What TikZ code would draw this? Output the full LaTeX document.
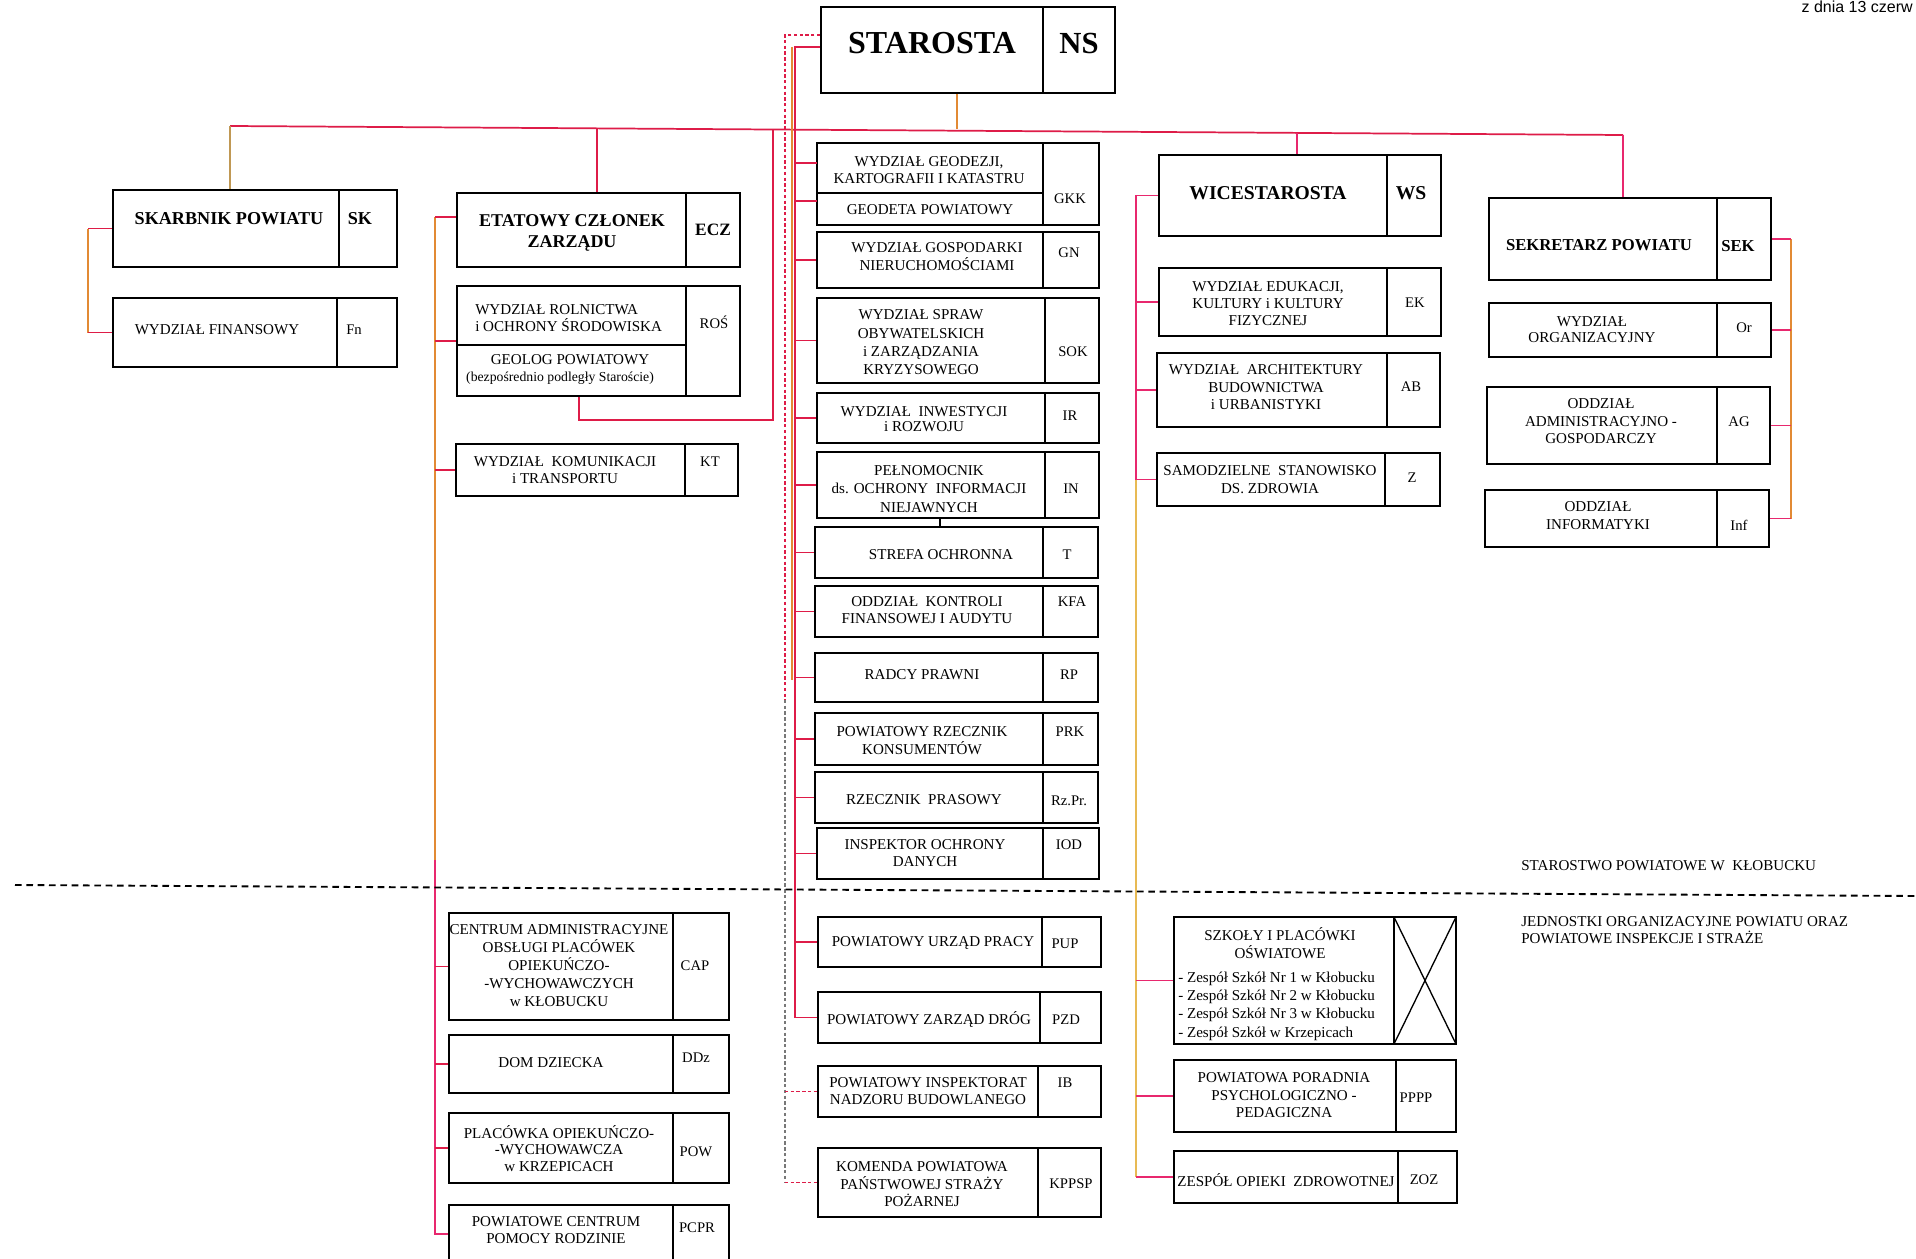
\documentclass[tikz,border=0pt]{standalone}
\usepackage{fontspec}
\setmainfont{Liberation Serif}
\newfontfamily\datefont{Liberation Sans}
\usetikzlibrary{fit,calc}
\definecolor{cred}{RGB}{222,28,72}
\definecolor{cpink}{RGB}{232,40,110}
\definecolor{corange}{RGB}{226,138,52}
\definecolor{ctan}{RGB}{192,152,84}
\definecolor{cyel}{RGB}{232,186,84}
\definecolor{cgrey}{RGB}{120,120,120}
\newcommand{\orgbox}[6]{%
  \node[obox, fit={(#2,#3)(#4,#5)}] (#1) {};
  \draw[boxline] (#6,#3) -- (#6,#5);}
\begin{document}
\begin{tikzpicture}[x=0.75pt,y=-0.75pt]
\tikzset{
  obox/.style={draw=black, line width=1.3pt, inner sep=0pt},
  helper/.style={inner sep=0pt},
  boxline/.style={draw=black, line width=1.3pt},
  lbl/.style={inner sep=0pt, align=center, font=\fontsize{11.3}{13.2}\selectfont},
  code/.style={inner sep=0pt, font=\fontsize{11}{13}\selectfont},
  hd/.style={inner sep=0pt, align=center, font=\bfseries\fontsize{13.6}{16}\selectfont},
  conn/.style={draw=cred, line width=1.3pt},
  dconn/.style={draw=cred, line width=1.2pt, dash pattern=on 2.5pt off 1.8pt},
  divl/.style={draw=black, line width=1.4pt, dash pattern=on 5pt off 3.5pt}
}
\useasboundingbox (0,0) rectangle (1916,1259);
\fill[white] (0,0) rectangle (1916,1259);

% ---------- boxes ----------
\orgbox{st}{821}{7}{1115}{93}{1043}
\orgbox{sk}{113}{190}{397}{267}{339}
\orgbox{fn}{113}{298}{397}{367}{337}
\orgbox{ecz}{457}{193}{740}{267}{686}
\orgbox{ros}{457}{286}{740}{396}{686}
\draw[boxline] (457,345) -- (686,345);
\orgbox{kt}{456}{444}{738}{496}{685}
\orgbox{gkk}{817}{143}{1099}{225}{1043}
\draw[boxline] (817,193) -- (1043,193);
\orgbox{gn}{817}{232}{1099}{288}{1043}
\orgbox{sok}{817}{298}{1099}{383}{1045}
\orgbox{ir}{817}{393}{1099}{443}{1045}
\orgbox{inj}{817}{452}{1099}{518}{1045}
\orgbox{tso}{815}{527}{1098}{578}{1043}
\orgbox{kfa}{815}{586}{1098}{637}{1043}
\orgbox{rp}{815}{653}{1098}{702}{1043}
\orgbox{prk}{815}{713}{1098}{765}{1043}
\orgbox{rzpr}{815}{772}{1098}{823}{1043}
\orgbox{iod}{817}{828}{1099}{879}{1043}
\orgbox{pup}{818}{917}{1101}{967}{1042}
\orgbox{pzd}{818}{992}{1101}{1043}{1040}
\orgbox{ib}{818}{1066}{1101}{1117}{1038}
\orgbox{kppsp}{818}{1148}{1101}{1217}{1038}
\orgbox{cap}{449}{913}{729}{1020}{673}
\orgbox{ddz}{449}{1035}{729}{1093}{673}
\orgbox{pow}{449}{1113}{729}{1183}{673}
\orgbox{pcpr}{449}{1205}{729}{1263}{673}
\orgbox{ws}{1159}{155}{1441}{236}{1387}
\orgbox{ek}{1159}{268}{1441}{336}{1387}
\orgbox{ab}{1157}{353}{1440}{427}{1387}
\orgbox{zdr}{1157}{453}{1440}{506}{1385}
\orgbox{szk}{1174}{917}{1456}{1044}{1394}
\draw[boxline, line width=1pt] (1394,917) -- (1456,1044) (1456,917) -- (1394,1044);
\orgbox{pppp}{1174}{1060}{1456}{1132}{1396}
\orgbox{zoz}{1174}{1151}{1457}{1203}{1398}
\orgbox{sek}{1489}{198}{1771}{280}{1717}
\orgbox{orgw}{1489}{303}{1771}{357}{1717}
\orgbox{ag}{1487}{387}{1770}{464}{1717}
\orgbox{inf}{1485}{490}{1769}{547}{1717}
\node[helper, fit={(817,143)(1043,183)}] (gkkA) {};
\node[helper, fit={(817,193)(1043,209)}] (gkkB) {};

% ---------- texts ----------
\node[hd, font=\bfseries\fontsize{24}{28}\selectfont] (stT) at (932,43) {STAROSTA};
\node[hd, font=\bfseries\fontsize{23}{28}\selectfont] (stC) at (1079,43) {NS};
\node[hd] (skT) at (229,219) {SKARBNIK POWIATU};
\node[hd] (skC) at (360,219) {SK};
\node[lbl] (fnT) at (217,330) {WYDZIAŁ FINANSOWY};
\node[code] (fnC) at (354,330) {Fn};
\node[hd, font=\bfseries\fontsize{13.5}{15.75}\selectfont] (eczT) at (572,232.5) {ETATOWY CZŁONEK\\ZARZĄDU};
\node[hd, font=\bfseries\fontsize{13}{15}\selectfont] (eczC) at (713,230) {ECZ};
\node[lbl, align=left, anchor=west, font=\fontsize{11.3}{12.75}\selectfont] (rosT) at (475,318.5) {WYDZIAŁ ROLNICTWA\\i OCHRONY ŚRODOWISKA};
\node[lbl] (rosG) at (570,360) {GEOLOG POWIATOWY};
\node[lbl, font=\fontsize{10.3}{12}\selectfont] (rosP) at (560,378) {(bezpośrednio podległy Staroście)};
\node[code] (rosC) at (714,322) {ROŚ};
\node[lbl, font=\fontsize{11.3}{12.75}\selectfont] (ktT) at (565,470.5) {WYDZIAŁ~ KOMUNIKACJI\\i TRANSPORTU};
\node[code] (ktC) at (710,462) {KT};

\node[lbl, font=\fontsize{11.3}{12.75}\selectfont] (gkkT) at (929,170.5) {WYDZIAŁ GEODEZJI,\\KARTOGRAFII I KATASTRU};
\node[lbl] (gkkG) at (930,210) {GEODETA POWIATOWY};
\node[code] (gkkC) at (1070,199) {GKK};
\node[lbl, font=\fontsize{11.3}{13.5}\selectfont] (gnT) at (937,257) {WYDZIAŁ GOSPODARKI\\NIERUCHOMOŚCIAMI};
\node[code] (gnC) at (1069,253) {GN};
\node[lbl, font=\fontsize{11.3}{13.7}\selectfont] (sokT) at (921,342.5) {WYDZIAŁ SPRAW\\OBYWATELSKICH\\i ZARZĄDZANIA\\KRYZYSOWEGO};
\node[code] (sokC) at (1073,352) {SOK};
\node[lbl, font=\fontsize{11.3}{11.3}\selectfont] (irT) at (924,419.5) {WYDZIAŁ~ INWESTYCJI\\i ROZWOJU};
\node[code] (irC) at (1070,416) {IR};
\node[lbl, font=\fontsize{11.3}{13.9}\selectfont] (injT) at (929,489) {PEŁNOMOCNIK\\ds. OCHRONY~ INFORMACJI\\NIEJAWNYCH};
\node[code] (injC) at (1071,489) {IN};
\node[lbl] (tsoT) at (941,555) {STREFA OCHRONNA};
\node[code] (tsoC) at (1067,555) {T};
\node[lbl, font=\fontsize{11.3}{12.75}\selectfont] (kfaT) at (927,610.5) {ODDZIAŁ~ KONTROLI\\FINANSOWEJ I AUDYTU};
\node[code] (kfaC) at (1072,602) {KFA};
\node[lbl] (rpT) at (922,675) {RADCY PRAWNI};
\node[code] (rpC) at (1069,675) {RP};
\node[lbl, font=\fontsize{11.3}{13.5}\selectfont] (prkT) at (922,741) {POWIATOWY RZECZNIK\\KONSUMENTÓW};
\node[code] (prkC) at (1070,732) {PRK};
\node[lbl] (rzprT) at (924,800) {RZECZNIK~ PRASOWY};
\node[code] (rzprC) at (1069,801) {Rz.Pr.};
\node[lbl, font=\fontsize{11.3}{12.75}\selectfont] (iodT) at (925,853.5) {INSPEKTOR OCHRONY\\DANYCH};
\node[code] (iodC) at (1069,845) {IOD};
\node[lbl] (pupT) at (933,943) {POWIATOWY URZĄD PRACY};
\node[code] (pupC) at (1065,944) {PUP};
\node[lbl] (pzdT) at (929,1020) {POWIATOWY ZARZĄD DRÓG};
\node[code] (pzdC) at (1066,1020) {PZD};
\node[lbl, font=\fontsize{11.3}{12.75}\selectfont] (ibT) at (928,1091.5) {POWIATOWY INSPEKTORAT\\NADZORU BUDOWLANEGO};
\node[code] (ibC) at (1065,1083) {IB};
\node[lbl, font=\fontsize{11.3}{13.1}\selectfont] (kppspT) at (922,1184.5) {KOMENDA POWIATOWA\\PAŃSTWOWEJ STRAŻY\\POŻARNEJ};
\node[code] (kppspC) at (1071,1184) {KPPSP};

\node[lbl, font=\fontsize{11.3}{13.5}\selectfont] (capT) at (559,966) {CENTRUM ADMINISTRACYJNE\\OBSŁUGI PLACÓWEK\\OPIEKUŃCZO-\\-WYCHOWAWCZYCH\\w KŁOBUCKU};
\node[code] (capC) at (695,966) {CAP};
\node[lbl] (ddzT) at (551,1063) {DOM DZIECKA};
\node[code] (ddzC) at (696,1058) {DDz};
\node[lbl, font=\fontsize{11.3}{12.4}\selectfont] (powT) at (559,1148.5) {PLACÓWKA OPIEKUŃCZO-\\-WYCHOWAWCZA\\w KRZEPICACH};
\node[code] (powC) at (696,1152) {POW};
\node[lbl, font=\fontsize{11.3}{12.75}\selectfont] (pcprT) at (556,1230.5) {POWIATOWE CENTRUM\\POMOCY RODZINIE};
\node[code] (pcprC) at (697,1228) {PCPR};

\node[hd, font=\bfseries\fontsize{14.7}{17}\selectfont] (wsT) at (1268,193) {WICESTAROSTA};
\node[hd, font=\bfseries\fontsize{14.7}{17}\selectfont] (wsC) at (1411,193) {WS};
\node[lbl, font=\fontsize{11.3}{12.75}\selectfont] (ekT) at (1268,303.5) {WYDZIAŁ EDUKACJI,\\KULTURY i KULTURY\\FIZYCZNEJ};
\node[code] (ekC) at (1415,303) {EK};
\node[lbl, font=\fontsize{11.3}{13.1}\selectfont] (abT) at (1266,387.5) {WYDZIAŁ~ ARCHITEKTURY\\BUDOWNICTWA\\i URBANISTYKI};
\node[code] (abC) at (1411,387) {AB};
\node[lbl, font=\fontsize{11.3}{13.5}\selectfont] (zdrT) at (1270,480) {SAMODZIELNE~ STANOWISKO\\DS. ZDROWIA};
\node[code] (zdrC) at (1412,478) {Z};
\node[lbl, font=\fontsize{11.3}{13.5}\selectfont] (szkT) at (1280,943) {SZKOŁY I PLACÓWKI\\OŚWIATOWE};
\node[lbl, anchor=base west] (szk1) at (1178,982) {- Zespół Szkół Nr 1 w Kłobucku};
\node[lbl, anchor=base west] (szk2) at (1178,1000) {- Zespół Szkół Nr 2 w Kłobucku};
\node[lbl, anchor=base west] (szk3) at (1178,1018) {- Zespół Szkół Nr 3 w Kłobucku};
\node[lbl, anchor=base west] (szk4) at (1178,1037) {- Zespół Szkół w Krzepicach};
\node[lbl, font=\fontsize{11.3}{13.1}\selectfont] (ppppT) at (1284,1095.5) {POWIATOWA PORADNIA\\PSYCHOLOGICZNO -\\PEDAGICZNA};
\node[code] (ppppC) at (1416,1098) {PPPP};
\node[lbl] (zozT) at (1286,1180) {ZESPÓŁ OPIEKI~ ZDROWOTNEJ};
\node[code] (zozC) at (1424,1180) {ZOZ};

\node[hd, font=\bfseries\fontsize{12.5}{15}\selectfont] (sekT) at (1599,245) {SEKRETARZ POWIATU};
\node[hd, font=\bfseries\fontsize{12.5}{15}\selectfont] (sekC) at (1738,246) {SEK};
\node[lbl, font=\fontsize{11.3}{12}\selectfont] (orgwT) at (1592,330) {WYDZIAŁ\\ORGANIZACYJNY};
\node[code] (orgwC) at (1744,328) {Or};
\node[lbl, font=\fontsize{11.3}{13.1}\selectfont] (agT) at (1601,421.5) {ODDZIAŁ\\ADMINISTRACYJNO -\\GOSPODARCZY};
\node[code] (agC) at (1739,422) {AG};
\node[lbl, font=\fontsize{11.3}{13.5}\selectfont] (infT) at (1598,516) {ODDZIAŁ\\INFORMATYKI};
\node[code] (infC) at (1739,525) {Inf};

\node[lbl, anchor=west, align=left] (lblA) at (1521,866) {STAROSTWO POWIATOWE W~ KŁOBUCKU};
\node[lbl, anchor=west, align=left, font=\fontsize{11.3}{12.75}\selectfont] (lblB) at (1521,930) {JEDNOSTKI ORGANIZACYJNE POWIATU ORAZ\\POWIATOWE INSPEKCJE I STRAŻE};
\node[anchor=base east, inner sep=0pt, font=\datefont\fontsize{12}{14}\selectfont] (date) at (1913,13) {z dnia 13 czerw};

% ---------- connectors ----------
\coordinate (b1) at (230,126);
\coordinate (b2) at (597,128);
\coordinate (b3) at (773,129);
\coordinate (b4) at (957,129);
\coordinate (b5) at (1297,133);
\coordinate (b6) at (1623,135);
\draw[conn] (b1) -- (b6);
\draw[conn, draw=ctan] (b1) -- (b1 |- sk.north);
\draw[conn] (b2) -- (b2 |- ecz.north);
\draw[conn, draw=corange] (b4 |- st.south) -- (b4);
\draw[conn, draw=cpink] (b5) -- (b5 |- ws.north);
\draw[conn, draw=cpink] (b6) -- (b6 |- sek.north);
\coordinate (gl) at (579,420);
\draw[conn] (gl |- ros.south) -- (gl) -| (b3);

% Skarbnik
\coordinate (vK) at (88,0);
\draw[conn, draw=corange] (sk.west -| vK) -- (fn.west -| vK);
\draw[conn] (sk.west -| vK) -- (sk.west);
\draw[conn] (fn.west -| vK) -- (fn.west);

% Etatowy czlonek
\coordinate (vE) at (435,217);
\coordinate (vE2) at (435,860);
\draw[conn, draw=cpink] (vE2) |- (pcpr.west);
\draw[conn, draw=corange] (vE) -- (vE2);
\draw[conn] (vE) -- (vE -| ecz.west);
\foreach \n in {ros,kt,cap,ddz,pow} \draw[conn] (\n.west -| vE) -- (\n.west);

% Starosta direct
\coordinate (vM) at (795,47);
\coordinate (vMo) at (792,47);
\coordinate (vMo2) at (792,680);
\draw[conn] (vM -| st.west) -- (vM) |- (pzd.west);
\draw[draw=corange, line width=0.9pt] (vMo) -- (vMo2);
\foreach \n in {gkkA,gkkB,gn,sok,ir,inj,tso,kfa,rp,prk,rzpr,iod,pup} \draw[conn] (\n.west -| vM) -- (\n.west);
\draw[boxline, line width=0.8pt] ($(inj.south)+(-18,0)$) -- ($(tso.north)+(-16.5,0)$);

% Starosta dashed (supervision)
\coordinate (vD) at (785,35);
\coordinate (dmid) at (785,700);
\draw[dconn] (vD -| st.west) -- (vD) -- (dmid);
\draw[dconn, draw=cgrey] (dmid) -- (dmid |- kppsp.west);
\draw[dconn] (dmid |- kppsp.west) -- (kppsp.west);
\draw[dconn] (ib.west -| vD) -- (ib.west);

% Wicestarosta
\coordinate (vW) at (1136,195);
\draw[conn, draw=cyel] (vW) -- (vW |- zoz.west);
\draw[conn, draw=cpink] (vW) -- (vW |- zdr.west);
\foreach \n in {ws,ek,ab,zdr,szk,pppp,zoz} \draw[conn, draw=cpink] (\n.west -| vW) -- (\n.west);

% Sekretarz
\coordinate (vS) at (1791,239);
\draw[conn, draw=corange] (vS) -- (vS |- inf.east);
\foreach \n in {sek,orgw,ag,inf} \draw[conn, draw=cpink] (\n.east) -- (\n.east -| vS);

% divider
\coordinate (dL) at (15,885);
\coordinate (dR) at (1916,896);
\draw[divl] (dL) -- (dR);
\end{tikzpicture}
\end{document}
